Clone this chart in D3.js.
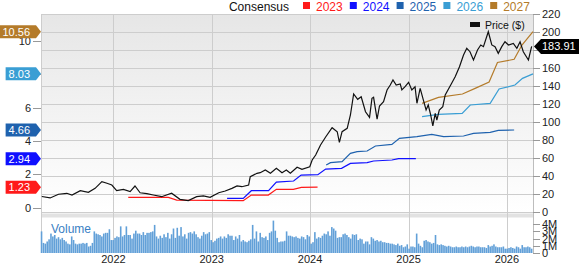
<!DOCTYPE html>
<html>
<head>
<meta charset="utf-8">
<script src="https://cdn.jsdelivr.net/npm/d3@7"></script>
<style>
  body { margin: 0; background: #fff; }
  svg { display: block; font-family: "Liberation Sans", Arial, sans-serif; }
</style>
</head>
<body>
<div id="chart"></div>
<script>
// price, weekly-ish close ($)
var priceDates = ["2021-04-10","2021-05-11","2021-06-11","2021-07-12","2021-07-31","2021-08-31","2021-09-30","2021-10-25","2021-11-19","2021-12-08","2021-12-26",
  "2022-01-13","2022-02-07","2022-03-04","2022-03-22","2022-04-10","2022-05-05","2022-05-29","2022-06-29","2022-08-05","2022-09-05","2022-10-06","2022-11-06","2022-12-01","2022-12-26",
  "2023-01-27","2023-02-20","2023-03-17","2023-04-05","2023-04-23","2023-05-18","2023-05-24","2023-06-18","2023-06-30","2023-07-19","2023-08-07","2023-08-29","2023-09-19","2023-10-05","2023-10-20","2023-11-14","2023-12-02","2023-12-31",
  "2024-01-09","2024-01-22","2024-02-09","2024-02-28","2024-03-23","2024-04-11","2024-04-19","2024-04-29","2024-05-18","2024-05-30","2024-06-11","2024-06-26","2024-07-09","2024-07-25","2024-08-09","2024-08-18","2024-08-24","2024-09-06","2024-09-15","2024-09-30","2024-10-13","2024-10-25","2024-11-04","2024-11-16","2024-12-01","2024-12-07","2024-12-19",
  "2025-01-01","2025-01-13","2025-01-25","2025-02-01","2025-02-13","2025-02-25","2025-03-07","2025-03-15","2025-03-24","2025-04-01","2025-04-10","2025-04-16","2025-04-25","2025-05-08","2025-05-17","2025-06-10","2025-06-23","2025-07-09","2025-07-24","2025-08-05","2025-08-17","2025-08-30","2025-09-14","2025-09-26","2025-10-06","2025-10-24","2025-11-06","2025-11-18","2025-11-30","2025-12-13","2025-12-25",
  "2026-01-07","2026-01-25","2026-02-07","2026-02-19","2026-03-03","2026-03-22","2026-04-03"];
var priceValues = [17.2,15.6,19.7,20.8,18.9,23.7,21.9,26.3,33.7,31.9,30,
  23.7,25.2,22.6,28.9,21.4,20.5,18.9,17,20.8,14.1,12.6,17,17.8,16.3,
  21.4,23.3,26.3,28.9,28.1,30,39.2,43,43.7,46.7,43,48.6,43.7,46.7,43,49.7,47.4,50.3,
  57.8,63.3,74.4,83.3,93.7,89.2,77.4,89.2,93,107.8,131.1,125.2,128.1,111.4,105.2,126.3,127.4,103.3,117.8,122.6,135.6,141.1,146.7,141.1,142.2,135.6,139.2,
  144.1,135.6,139.2,120.8,137.4,124.4,113.3,118.9,107.8,95.6,109.7,102.2,113.3,117,130,143,150.3,161.4,174.4,181.9,178.1,168.9,180,185.6,183.7,200.3,185.6,183.7,176.3,183.7,189.2,
  185.6,187.4,181.9,189.2,178.1,168.9,183.91];

// consensus EPS estimates by fiscal year
var eps2023Dates = ["2022-02-25","2022-07-24","2022-08-24","2023-04-28","2023-05-28","2023-07-30","2023-08-29","2023-10-31","2023-11-30","2024-01-29"];
var eps2023Values = [0.62,0.62,0.46,0.42,0.76,0.76,1.1,1.1,1.22,1.23];
var eps2024Dates = ["2023-02-27","2023-04-28","2023-05-28","2023-07-31","2023-08-29","2023-11-01","2023-11-29","2024-01-30","2024-02-28","2024-04-27","2024-05-30","2024-07-31","2024-08-24","2024-10-31","2024-11-25","2025-01-28"];
var eps2024Values = [0.56,0.56,1.02,1.02,1.54,1.6,1.96,1.98,2.32,2.36,2.66,2.7,2.8,2.86,2.94,2.94];
var eps2025Dates = ["2024-03-01","2024-03-17","2024-04-29","2024-05-30","2024-06-24","2024-07-31","2024-08-31","2024-10-31","2024-11-28","2025-02-01","2025-03-28","2025-05-11","2025-07-24","2025-08-30","2025-10-31","2025-11-30","2026-01-28"];
var eps2025Values = [2.56,2.7,2.76,3.26,3.36,3.4,3.7,3.8,4.16,4.26,4.4,4.26,4.3,4.46,4.52,4.64,4.66];
var eps2026Dates = ["2025-02-20","2025-04-21","2025-07-19","2025-08-18","2025-10-31","2025-12-03","2026-01-31","2026-02-28","2026-04-08"];
var eps2026Values = [5.46,5.6,5.66,6.16,6.26,7.12,7.36,7.76,8.03];
var eps2027Dates = ["2025-02-20","2025-04-22","2025-07-20","2025-09-05","2025-10-27","2025-11-27","2026-01-28","2026-02-26","2026-04-08"];
var eps2027Values = [6.26,6.62,6.82,7.16,7.54,8.71,8.9,9.76,10.56];

// weekly volume (millions), first week 2021-04-09
var volStart = "2021-04-09";
var volValues = [3.0,1.4,1.3,1.6,1.9,2.7,2.3,2.5,2.0,2.2,1.9,2.1,1.8,1.6,1.3,1.2,2.3,1.8,1.3,1.2,1.3,1.3,1.4,1.3,1.4,0.9,1.0,1.4,3.0,2.7,2.6,2.5,2.3,2.7,2.8,2.8,3.3,1.8,1.8,
  2.1,2.3,2.2,3.7,2.3,2.5,3.7,2.5,2.5,2.0,2.7,3.1,2.7,2.7,2.5,2.9,2.5,2.8,2.8,2.9,3.0,3.9,2.3,2.0,2.4,2.1,2.6,2.2,2.8,2.0,2.6,3.4,2.1,3.5,2.4,3.6,2.3,2.6,2.0,2.8,2.9,2.7,3.0,2.6,2.2,2.0,2.4,2.9,2.6,2.7,2.9,1.8,
  1.5,1.7,2.0,2.1,2.3,2.0,2.3,2.1,2.6,2.4,2.4,1.8,2.3,2.0,2.5,1.6,1.8,1.6,1.5,1.7,1.9,3.9,2.0,3.0,1.6,2.8,2.2,2.1,2.3,1.8,2.8,3.0,4.5,3.1,2.1,1.5,1.6,1.6,1.7,3.0,2.4,2.4,2.3,2.2,2.3,2.1,2.0,2.3,2.2,1.9,2.5,2.3,
  1.3,1.5,2.9,2.0,2.2,2.1,2.4,2.7,2.6,3.0,2.4,3.6,3.4,3.1,2.1,2.2,2.2,2.6,2.7,2.5,2.2,2.0,2.6,2.5,2.6,1.8,2.0,1.9,1.3,1.6,1.6,1.2,2.2,2.0,1.7,1.8,1.6,1.7,1.5,1.5,1.4,1.4,1.3,1.3,1.2,1.1,1.3,1.0,1.1,0.8,0.9,1.2,
  0.6,0.9,0.9,0.8,2.7,1.3,1.0,0.8,1.7,1.8,1.6,1.5,1.3,1.4,2.5,1.2,1.1,1.2,1.1,1.0,0.9,1.0,0.9,0.8,0.8,0.9,0.8,0.8,0.9,0.8,0.9,0.8,0.9,1.0,0.9,0.8,0.9,0.9,0.8,0.8,0.8,0.7,1.1,0.9,1.0,1.2,0.9,0.8,0.8,0.8,0.9,0.6,
  0.6,0.7,0.8,0.7,0.6,0.9,0.8,0.6,1.1,0.8,0.8,0.9,0.8,0.6];

var priceTicks = [0,20,40,60,80,100,120,140,160,180,200,220];
var epsTicks = [0,2,4,6,8,10];
var volTicks = [0,1,2,3,4];
var yearTicks = ["2022","2023","2024","2025","2026"];
var legendYears = ["2023","2024","2025","2026","2027"];
var legendColors = ["#ff1a1a","#1010ff","#1f62ae","#3a9ed4","#b47b2a"];

var W = 579, H = 264;
// plot box (don't use "top": clashes with window.top)
var pLeft = 41, pRight = 533, pTop = 14, mainBottom = 212, volTop = 218, volBottom = 253;
var parse = d3.timeParse("%Y-%m-%d");

var svg = d3.select("#chart").append("svg").attr("width", W).attr("height", H);

var x = d3.scaleTime()
    .domain([parse("2021-04-07"), parse("2026-04-08")])
    .range([pLeft, pRight]);
var yPrice = d3.scaleLinear().domain([0, 220]).range([mainBottom, pTop]);
var yEps = d3.scaleLinear().domain([0, 10]).range([207.7, 41]);
var yVol = d3.scaleLinear().domain([0, 4]).range([volBottom, 224.2]);

// background gradient
var grad = svg.append("defs").append("linearGradient")
    .attr("id", "bg").attr("x1", 0).attr("y1", 0).attr("x2", 0).attr("y2", 1);
grad.append("stop").attr("offset", "0%").attr("stop-color", "#e6e6e6");
grad.append("stop").attr("offset", "100%").attr("stop-color", "#ffffff");

svg.append("rect").attr("x", pLeft).attr("y", pTop)
    .attr("width", pRight - pLeft).attr("height", mainBottom - pTop)
    .attr("fill", "url(#bg)");
svg.append("rect").attr("x", pLeft).attr("y", mainBottom + 1.5)
    .attr("width", pRight - pLeft).attr("height", volTop - mainBottom - 2)
    .attr("fill", "#e2e2e2");

// grid
svg.append("g").selectAll("line").data(priceTicks).enter().append("line")
    .attr("x1", pLeft).attr("x2", pRight)
    .attr("y1", function (d) { return Math.round(yPrice(d)) + 0.5; })
    .attr("y2", function (d) { return Math.round(yPrice(d)) + 0.5; })
    .attr("stroke", "#cdcdcd");
svg.append("g").selectAll("line").data(yearTicks).enter().append("line")
    .attr("x1", function (d) { return Math.round(x(parse(d + "-01-01"))) + 0.5; })
    .attr("x2", function (d) { return Math.round(x(parse(d + "-01-01"))) + 0.5; })
    .attr("y1", pTop).attr("y2", volBottom)
    .attr("stroke", "#cdcdcd");
svg.append("line").attr("x1", pLeft + 0.5).attr("x2", pLeft + 0.5)
    .attr("y1", pTop).attr("y2", volBottom).attr("stroke", "#cdcdcd");
svg.append("line").attr("x1", pRight + 0.5).attr("x2", pRight + 0.5)
    .attr("y1", pTop).attr("y2", volBottom).attr("stroke", "#bdbdbd");

// volume bars
var volData = volValues.map(function (v, i) {
    return { date: d3.timeDay.offset(parse(volStart), 7 * i), v: v };
});
svg.append("g").selectAll("rect").data(volData).enter().append("rect")
    .attr("x", function (d) { return x(d.date) - 0.8; })
    .attr("width", 1.6)
    .attr("y", function (d) { return yVol(d.v); })
    .attr("height", function (d) { return volBottom - yVol(d.v); })
    .attr("fill", "#62a0d8");
svg.append("text").attr("x", 51).attr("y", 233)
    .attr("font-size", 12).attr("fill", "#3a7fc4").text("Volume");

// axes on the right
var rightAxis = svg.append("g").attr("font-size", 11).attr("fill", "#222");
rightAxis.selectAll("line").data(priceTicks).enter().append("line")
    .attr("x1", pRight).attr("x2", pRight + 7)
    .attr("y1", function (d) { return Math.round(yPrice(d)) + 0.5; })
    .attr("y2", function (d) { return Math.round(yPrice(d)) + 0.5; })
    .attr("stroke", "#999");
rightAxis.selectAll("text").data(priceTicks).enter().append("text")
    .attr("x", pRight + 9).attr("y", function (d) { return yPrice(d) + 4; })
    .text(function (d) { return d; });
var volAxis = svg.append("g").attr("font-size", 11).attr("fill", "#222");
volAxis.selectAll("line").data(volTicks).enter().append("line")
    .attr("x1", pRight).attr("x2", pRight + 7)
    .attr("y1", function (d) { return Math.round(yVol(d)) + 0.5; })
    .attr("y2", function (d) { return Math.round(yVol(d)) + 0.5; })
    .attr("stroke", "#999");
volAxis.selectAll("text").data(volTicks).enter().append("text")
    .attr("x", pRight + 9).attr("y", function (d) { return yVol(d) + 4; })
    .text(function (d) { return d === 0 ? "0" : d + "M"; });

// left axis
var leftAxis = svg.append("g").attr("font-size", 11).attr("fill", "#222");
leftAxis.selectAll("line").data(epsTicks).enter().append("line")
    .attr("x1", pLeft - 8).attr("x2", pLeft)
    .attr("y1", function (d) { return Math.round(yEps(d)) + 0.5; })
    .attr("y2", function (d) { return Math.round(yEps(d)) + 0.5; })
    .attr("stroke", "#999");
leftAxis.selectAll("text").data(epsTicks).enter().append("text")
    .attr("x", pLeft - 10).attr("y", function (d) { return yEps(d) + 4; })
    .attr("text-anchor", "end")
    .text(function (d) { return d; });

// x axis labels
svg.append("g").selectAll("text").data(yearTicks).enter().append("text")
    .attr("x", function (d) { return x(parse(d + "-01-01")); })
    .attr("y", 263)
    .attr("text-anchor", "middle").attr("font-size", 11).attr("fill", "#222")
    .text(function (d) { return d; });

// lines
var epsSeries = [
    [eps2023Dates, eps2023Values],
    [eps2024Dates, eps2024Values],
    [eps2025Dates, eps2025Values],
    [eps2026Dates, eps2026Values],
    [eps2027Dates, eps2027Values]
];
var epsLine = d3.line()
    .x(function (d) { return x(d[0]); })
    .y(function (d) { return yEps(d[1]); });
epsSeries.forEach(function (s, i) {
    var pts = s[0].map(function (d, j) { return [parse(d), s[1][j]]; });
    svg.append("path").datum(pts)
        .attr("d", epsLine)
        .attr("fill", "none")
        .attr("stroke", legendColors[i])
        .attr("stroke-width", 1.2);
});
var pricePts = priceDates.map(function (d, j) { return [parse(d), priceValues[j]]; });
svg.append("path").datum(pricePts)
    .attr("d", d3.line()
        .x(function (d) { return x(d[0]); })
        .y(function (d) { return yPrice(d[1]); }))
    .attr("fill", "none").attr("stroke", "#111").attr("stroke-width", 1.2);

// legend
svg.append("text").attr("x", 289).attr("y", 11).attr("text-anchor", "end")
    .attr("font-size", 12).attr("fill", "#111").text("Consensus");
var leg = svg.append("g").selectAll("g").data(legendYears).enter().append("g")
    .attr("transform", function (d, i) { return "translate(" + (303 + i * 46.8) + ",0)"; });
leg.append("rect").attr("x", 0).attr("y", 2).attr("width", 7).attr("height", 7)
    .attr("fill", function (d, i) { return legendColors[i]; });
leg.append("text").attr("x", 13).attr("y", 11).attr("font-size", 12)
    .attr("fill", function (d, i) { return legendColors[i]; })
    .text(function (d) { return d; });

svg.append("rect").attr("x", 470).attr("y", 22).attr("width", 10).attr("height", 5).attr("fill", "#111");
svg.append("text").attr("x", 485).attr("y", 29).attr("font-size", 10.5).attr("fill", "#111").text("Price ($)");

// left value badges (latest estimates)
epsSeries.forEach(function (s, i) {
    var v = s[1][s[1].length - 1];
    var cy = yEps(v);
    var label = v.toFixed(2);
    var w = label.length * 6.1 + 6;
    var x1 = 36 - w;
    var g = svg.append("g");
    g.append("path")
        .attr("d", "M" + x1 + "," + (cy - 6.5) + "H36L41," + cy + "L36," + (cy + 6.5) + "H" + x1 + "Z")
        .attr("fill", legendColors[i]);
    g.append("text").attr("x", x1 + 3).attr("y", cy + 4)
        .attr("font-size", 11).attr("fill", "#fff").text(label);
});

// price badge
var lastPrice = priceValues[priceValues.length - 1];
var py = yPrice(lastPrice);
svg.append("path")
    .attr("d", "M534," + py + "L541," + (py - 7.5) + "H579V" + (py + 7.5) + "H541Z")
    .attr("fill", "#000");
svg.append("text").attr("x", 542).attr("y", py + 4)
    .attr("font-size", 11).attr("fill", "#fff").text(lastPrice.toFixed(2));
</script>
</body>
</html>
